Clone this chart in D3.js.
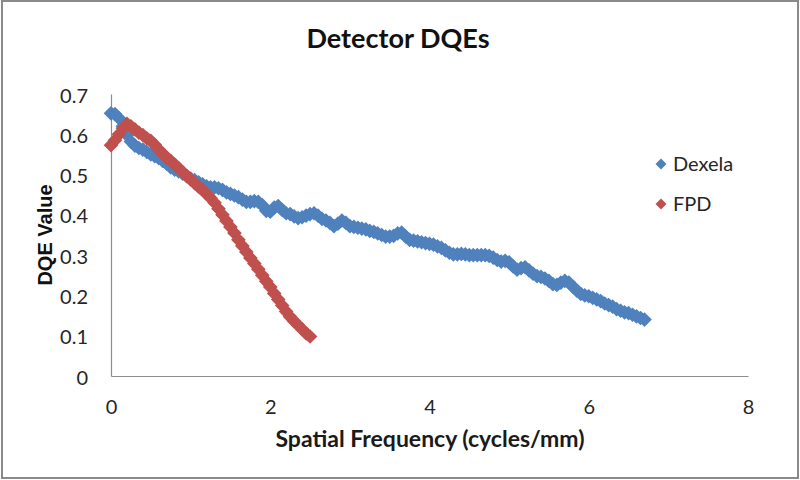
<!DOCTYPE html>
<html>
<head>
<meta charset="utf-8">
<script src="https://cdn.jsdelivr.net/npm/d3@7"></script>
<style>
  html, body { margin: 0; padding: 0; background: #fff; }
  svg { display: block; }
</style>
</head>
<body>
<svg id="chart" width="800" height="480"></svg>
<script>
// ---- data ----
const title = "Detector DQEs";
const xTitle = "Spatial Frequency (cycles/mm)";
const yTitle = "DQE Value";
const seriesNames = ["Dexela", "FPD"];
const xTicks = [0, 2, 4, 6, 8];
const yTicks = [0, 0.1, 0.2, 0.3, 0.4, 0.5, 0.6, 0.7];
const sampleStep = 0.05; // cycles/mm between measured points

const dexelaDQE = [
  0.652,0.650,0.640,0.620,0.598,0.582,0.572,0.566,0.562,0.556,
  0.550,0.546,0.541,0.534,0.527,0.518,0.512,0.508,0.502,0.496,
  0.490,0.486,0.481,0.476,0.471,0.468,0.468,0.466,0.462,0.456,
  0.452,0.448,0.444,0.438,0.432,0.432,0.434,0.432,0.424,0.410,
  0.408,0.418,0.422,0.412,0.404,0.402,0.396,0.392,0.394,0.398,
  0.402,0.404,0.398,0.390,0.386,0.380,0.372,0.378,0.386,0.380,
  0.372,0.370,0.368,0.366,0.364,0.360,0.358,0.354,0.350,0.346,
  0.346,0.348,0.354,0.356,0.346,0.338,0.336,0.334,0.332,0.330,
  0.328,0.326,0.322,0.318,0.312,0.306,0.302,0.302,0.303,0.302,
  0.300,0.300,0.300,0.300,0.300,0.298,0.294,0.288,0.284,0.286,
  0.282,0.272,0.264,0.268,0.270,0.262,0.254,0.248,0.246,0.242,
  0.236,0.228,0.226,0.232,0.236,0.232,0.222,0.212,0.204,0.200,
  0.198,0.194,0.190,0.186,0.180,0.176,0.172,0.166,0.162,0.158,
  0.156,0.152,0.148,0.144,0.140
];
const fpdDQE = [
  0.573,0.585,0.600,0.615,0.626,0.620,0.612,0.604,0.598,0.590,
  0.584,0.574,0.562,0.552,0.542,0.534,0.525,0.516,0.506,0.497,
  0.488,0.479,0.470,0.462,0.452,0.442,0.430,0.415,0.400,0.385,
  0.370,0.355,0.338,0.323,0.308,0.293,0.279,0.265,0.250,0.235,
  0.221,0.205,0.190,0.175,0.160,0.147,0.136,0.126,0.116,0.106,
  0.098
];
const seriesColors = ["#4F81BD", "#C0504D"];

// ---- layout ----
const svg = d3.select("#chart");
const W = 800, H = 480;
const plot = { left: 111, right: 748, top: 94, bottom: 376 };

svg.append("rect")
  .attr("x", 2).attr("y", 1).attr("width", W - 4).attr("height", H - 3)
  .attr("fill", "#fff").attr("stroke", "#8a8a8a").attr("stroke-width", 2);

const x = d3.scaleLinear().domain([0, 8]).range([plot.left, plot.right]);
const y = d3.scaleLinear().domain([0, 0.7]).range([plot.bottom, plot.top]);

const labelFont = "Lato, 'Open Sans', sans-serif";

// axes
const xAxis = d3.axisBottom(x).tickValues(xTicks).tickSize(0).tickPadding(24)
  .tickFormat(d3.format("d"));
const yAxis = d3.axisLeft(y).tickValues(yTicks).tickSize(0).tickPadding(23)
  .tickFormat(d => d === 0 ? "0" : d3.format(".1f")(d));

const gx = svg.append("g").attr("transform", `translate(0,${plot.bottom})`).call(xAxis);
const gy = svg.append("g").attr("transform", `translate(${plot.left},0)`).call(yAxis);
[gx, gy].forEach(g => {
  g.select(".domain").attr("stroke", "#8c8c8c").attr("stroke-width", 1.2);
  g.selectAll("text").attr("font-family", labelFont).attr("font-size", 20)
    .attr("fill", "#262626");
});
gy.selectAll("text").attr("dy", "0.4em");

// series
const diamond = d3.symbol().type(d3.symbolSquare).size(108);
const series = [dexelaDQE, fpdDQE];
series.forEach((vals, si) => {
  svg.append("g").selectAll("path")
    .data(vals.map((v, i) => [i * sampleStep, v]))
    .join("path")
    .attr("d", diamond)
    .attr("transform", d => `translate(${x(d[0])},${y(d[1])}) rotate(45)`)
    .attr("fill", seriesColors[si]);
});

// titles
svg.append("text").attr("x", 398).attr("y", 48).attr("text-anchor", "middle")
  .attr("font-family", labelFont).attr("font-weight", "bold").attr("font-size", 27)
  .attr("fill", "#111").text(title);

svg.append("text").attr("x", 430).attr("y", 447).attr("text-anchor", "middle")
  .attr("font-family", labelFont).attr("font-weight", "bold").attr("font-size", 23)
  .attr("fill", "#1a1a1a").text(xTitle);

svg.append("text")
  .attr("transform", `translate(52,235) rotate(-90)`)
  .attr("text-anchor", "middle")
  .attr("font-family", "'Liberation Sans', Arial, sans-serif").attr("font-weight", "bold")
  .attr("font-size", 20).attr("fill", "#111").text(yTitle);

// legend
const legendDiamond = d3.symbol().type(d3.symbolSquare).size(60);
seriesNames.forEach((name, i) => {
  const ly = 164 + i * 40;
  svg.append("path").attr("d", legendDiamond)
    .attr("transform", `translate(661,${ly}) rotate(45)`)
    .attr("fill", seriesColors[i]);
  svg.append("text").attr("x", 673).attr("y", ly + 7)
    .attr("font-family", labelFont).attr("font-size", 20).attr("fill", "#262626")
    .text(name);
});
</script>
</body>
</html>
